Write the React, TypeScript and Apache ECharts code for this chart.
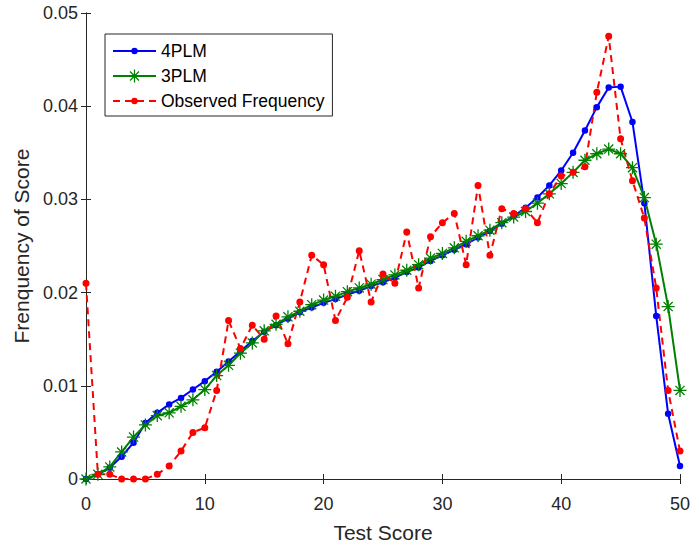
import { useEffect, useRef } from 'react';
import * as echarts from 'echarts';

const scores = Array.from({ length: 51 }, (_, i) => i);

const plm4 = [
  0, 0.0005, 0.0012, 0.0024, 0.0039, 0.006, 0.0071, 0.008, 0.0087, 0.0096,
  0.0105, 0.0115, 0.0126, 0.0137, 0.0148, 0.0158, 0.0165, 0.0172, 0.0179, 0.0184,
  0.0189, 0.0193, 0.0198, 0.0202, 0.0207, 0.0211, 0.0216, 0.0222, 0.0227, 0.0234,
  0.024, 0.0246, 0.0252, 0.0259, 0.0266, 0.0274, 0.0282, 0.0291, 0.0302, 0.0315,
  0.0331, 0.035, 0.0374, 0.0399, 0.042, 0.0421, 0.0383, 0.0296, 0.0175, 0.007,
  0.0014,
];

const plm3 = [
  0, 0.0005, 0.0013, 0.0029, 0.0045, 0.0058, 0.0068, 0.0071, 0.0078, 0.0085,
  0.0096, 0.0111, 0.0122, 0.0135, 0.0146, 0.0159, 0.0166, 0.0174, 0.018, 0.0187,
  0.0192, 0.0196, 0.0201, 0.0205, 0.0209, 0.0214, 0.0219, 0.0224, 0.023, 0.0237,
  0.0242, 0.0248, 0.0255, 0.0261, 0.0267, 0.0275, 0.0281, 0.0287, 0.0296, 0.0306,
  0.0317, 0.0329, 0.0342, 0.0349, 0.0354, 0.0349, 0.0334, 0.0302, 0.0252, 0.0185,
  0.0095,
];

const observed = [
  0.021, 0.0005, 0.0005, 0, 0, 0, 0.0005, 0.0014, 0.003, 0.005,
  0.0055, 0.0095, 0.017, 0.014, 0.0165, 0.015, 0.0175, 0.0145, 0.019, 0.024,
  0.023, 0.017, 0.0195, 0.0245, 0.019, 0.022, 0.021, 0.0265, 0.0205, 0.026,
  0.0275, 0.0285, 0.023, 0.0315, 0.024, 0.029, 0.0285, 0.029, 0.0275, 0.0306,
  0.0325, 0.0329, 0.0335, 0.0415, 0.0475, 0.0365, 0.032, 0.028, 0.0205, 0.0095,
  0.003,
];

// asterisk marker (MATLAB '*'): four crossing bars
const asterisk =
  'path://M0,9L20,9L20,11L0,11Z M9,0L11,0L11,20L9,20Z ' +
  'M3.7,2.3L17.7,16.3L16.3,17.7L2.3,3.7Z M16.3,2.3L17.7,3.7L3.7,17.7L2.3,16.3Z';

// dot with empty padding so the legend icon stays small
const smallDot =
  'path://M0,0L0,0Z M20,20L20,20Z M15,10A5,5,0,1,1,5,10A5,5,0,1,1,15,10Z';

const FONT = '"Liberation Sans", Arial, Helvetica, sans-serif';
const INK = '#262626';

export default function App() {
  const chartRef = useRef<HTMLDivElement>(null);

  useEffect(() => {
    if (!chartRef.current) return;
    const chart = echarts.init(chartRef.current, null, { renderer: 'svg' });

    const axisLine = { show: true, lineStyle: { color: INK, width: 1 } };
    const axisTick = { show: true, inside: true, length: 5, lineStyle: { color: INK } };

    const option: echarts.EChartsOption = {
      animation: false,
      backgroundColor: '#ffffff',
      textStyle: { fontFamily: FONT },
      grid: { left: 86, right: 11, top: 13, bottom: 69, containLabel: false },
      legend: {
        orient: 'vertical',
        left: 105,
        top: 34,
        padding: [8, 8, 6, 7],
        itemGap: 7,
        itemWidth: 43,
        itemHeight: 16,
        backgroundColor: '#ffffff',
        borderColor: INK,
        borderWidth: 1,
        borderRadius: 0,
        textStyle: { fontFamily: FONT, fontSize: 17.5, color: '#000000' },
        data: ['4PLM', '3PLM', 'Observed Frequency'],
      },
      xAxis: [
        {
          type: 'value',
          position: 'bottom',
          min: 0,
          max: 50,
          interval: 10,
          name: 'Test Score',
          nameLocation: 'middle',
          nameGap: 43,
          nameTextStyle: { fontFamily: FONT, fontSize: 21, color: INK },
          axisLine,
          axisTick,
          axisLabel: { fontFamily: FONT, fontSize: 18, color: INK, margin: 16 },
          splitLine: { show: false },
        },
        {
          type: 'value',
          position: 'top',
          min: 0,
          max: 50,
          interval: 10,
          axisLine,
          axisTick,
          axisLabel: { show: false },
          splitLine: { show: false },
        },
      ],
      yAxis: [
        {
          type: 'value',
          position: 'left',
          min: 0,
          max: 0.05,
          interval: 0.01,
          name: 'Frenquency of Score',
          nameLocation: 'middle',
          nameGap: 53,
          nameTextStyle: { fontFamily: FONT, fontSize: 21, color: INK },
          axisLine,
          axisTick,
          axisLabel: { fontFamily: FONT, fontSize: 18, color: INK, margin: 8 },
          splitLine: { show: false },
        },
        {
          type: 'value',
          position: 'right',
          min: 0,
          max: 0.05,
          interval: 0.01,
          axisLine,
          axisTick,
          axisLabel: { show: false },
          splitLine: { show: false },
        },
      ],
      series: [
        {
          name: '4PLM',
          type: 'line',
          data: scores.map((s, i) => [s, plm4[i]]),
          symbol: smallDot,
          symbolSize: 13,
          lineStyle: { color: '#0000ff', width: 2 },
          itemStyle: { color: '#0000ff' },
          emphasis: { disabled: true },
        },
        {
          name: '3PLM',
          type: 'line',
          data: scores.map((s, i) => [s, plm3[i]]),
          symbol: asterisk,
          symbolSize: 13,
          lineStyle: { color: '#008000', width: 2 },
          itemStyle: { color: '#008000' },
          emphasis: { disabled: true },
        },
        {
          name: 'Observed Frequency',
          type: 'line',
          data: scores.map((s, i) => [s, observed[i]]),
          symbol: smallDot,
          symbolSize: 14,
          lineStyle: { color: '#ff0000', width: 2, type: [7, 5] },
          itemStyle: { color: '#ff0000' },
          emphasis: { disabled: true },
        },
      ],
    };

    chart.setOption(option);

    return () => {
      chart.dispose();
    };
  }, []);

  return (
    <div
      ref={chartRef}
      style={{ position: 'fixed', left: 0, top: 0, width: 693, height: 548 }}
    />
  );
}
